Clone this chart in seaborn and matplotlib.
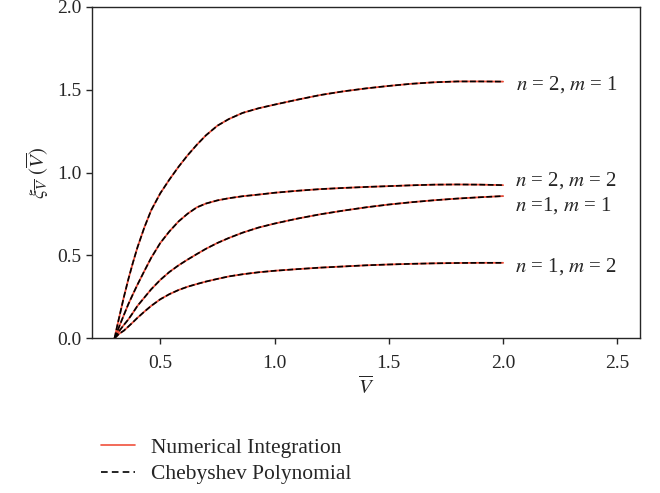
import numpy as np
import pandas as pd
import matplotlib
matplotlib.use("Agg")
import matplotlib.pyplot as plt
from matplotlib.lines import Line2D
import seaborn as sns

# ---- data ----
v_bar = [0.30, 0.31, 0.32, 0.34, 0.36, 0.38, 0.40, 0.43, 0.46, 0.50, 0.54,
         0.58, 0.62, 0.66, 0.70, 0.75, 0.80, 0.86, 0.93, 1.00, 1.10, 1.20,
         1.30, 1.40, 1.50, 1.60, 1.70, 1.80, 1.90, 2.00]
xi_n2_m1 = [0.0, 0.065, 0.125, 0.245, 0.355, 0.455, 0.548, 0.668, 0.772, 0.875,
            0.958, 1.035, 1.105, 1.168, 1.225, 1.283, 1.323, 1.360, 1.388, 1.410,
            1.440, 1.468, 1.490, 1.508, 1.523, 1.536, 1.545, 1.550, 1.550, 1.549]
xi_n2_m2 = [0.0, 0.035, 0.07, 0.138, 0.205, 0.265, 0.323, 0.405, 0.485, 0.575,
            0.645, 0.705, 0.752, 0.790, 0.813, 0.832, 0.845, 0.857, 0.867, 0.878,
            0.890, 0.900, 0.907, 0.913, 0.918, 0.923, 0.927, 0.928, 0.927, 0.924]
xi_n1_m1 = [0.0, 0.022, 0.043, 0.079, 0.113, 0.153, 0.195, 0.245, 0.295, 0.352,
            0.400, 0.440, 0.475, 0.508, 0.540, 0.575, 0.605, 0.637, 0.668, 0.692,
            0.722, 0.748, 0.770, 0.790, 0.807, 0.821, 0.833, 0.843, 0.851, 0.858]
xi_n1_m2 = [0.0, 0.013, 0.027, 0.045, 0.070, 0.096, 0.123, 0.160, 0.195, 0.235,
            0.266, 0.291, 0.311, 0.327, 0.342, 0.358, 0.373, 0.386, 0.398, 0.407,
            0.417, 0.426, 0.433, 0.440, 0.445, 0.449, 0.452, 0.454, 0.455, 0.455]

curve_names = ["n2m1", "n2m2", "n1m1", "n1m2"]
curve_labels = [r"$n$ = 2, $m$ = 1", r"$n$ = 2, $m$ = 2",
                r"$n$ =1, $m$ = 1", r"$n$ = 1, $m$ = 2"]
label_x = [2.055, 2.05, 2.05, 2.05]
label_y = [1.53, 0.953, 0.80, 0.435]

x_ticks = [0.5, 1.0, 1.5, 2.0, 2.5]
y_ticks = [0.0, 0.5, 1.0, 1.5, 2.0]
legend_labels = ["Numerical Integration", "Chebyshev Polynomial"]

# ---- build table ----
rows = []
for name, ys in zip(curve_names, [xi_n2_m1, xi_n2_m2, xi_n1_m1, xi_n1_m2]):
    for x, y in zip(v_bar, ys):
        rows.append({"V": x, "xi": y, "curve": name})
df = pd.DataFrame(rows)

sns.set_style("ticks")
plt.rcParams["font.family"] = ["Liberation Serif", "DejaVu Serif"]
plt.rcParams["mathtext.fontset"] = "stix"
plt.rcParams["font.size"] = 14

fig = plt.figure(figsize=(6.6, 4.93), dpi=100)
ax = fig.add_axes([0.139, 0.314, 0.831, 0.672])

red = "#f0503c"
sns.lineplot(data=df, x="V", y="xi", units="curve", estimator=None,
             color=red, lw=1.3, ax=ax, legend=False)
sns.lineplot(data=df, x="V", y="xi", units="curve", estimator=None,
             color="black", lw=1.2, ax=ax, legend=False,
             linestyle=(0, (3.5, 1.5)))

for lab, lx, ly in zip(curve_labels, label_x, label_y):
    ax.text(lx, ly, lab, fontsize=15, va="center", ha="left")

ax.set_xlim(0.2, 2.6)
ax.set_ylim(0.0, 2.0)
ax.set_xticks(x_ticks)
ax.set_yticks(y_ticks)
ax.set_xticklabels([f"{t:.1f}" for t in x_ticks])
ax.set_yticklabels([f"{t:.1f}" for t in y_ticks])
ax.tick_params(direction="out", length=4, width=1, labelsize=14)
ax.tick_params(axis="x", pad=8)
for s in ax.spines.values():
    s.set_visible(True)
    s.set_linewidth(1.0)
ax.set_xlabel(r"$\overline{V}$", fontsize=15, labelpad=3)
ax.set_ylabel(r"$\xi_{\overline{V}}\ (\overline{V})$", fontsize=15, labelpad=4)

handles = [Line2D([], [], color=red, lw=1.2),
           Line2D([], [], color="black", lw=1.2, linestyle=(0, (4, 2.5)))]
fig.legend(handles, legend_labels, loc="lower left",
           bbox_to_anchor=(0.14, 0.0), borderaxespad=0.0, frameon=False,
           fontsize=15.5, handlelength=1.6, handletextpad=0.7,
           labelspacing=0.3)

fig.savefig("out.png", dpi=100)
